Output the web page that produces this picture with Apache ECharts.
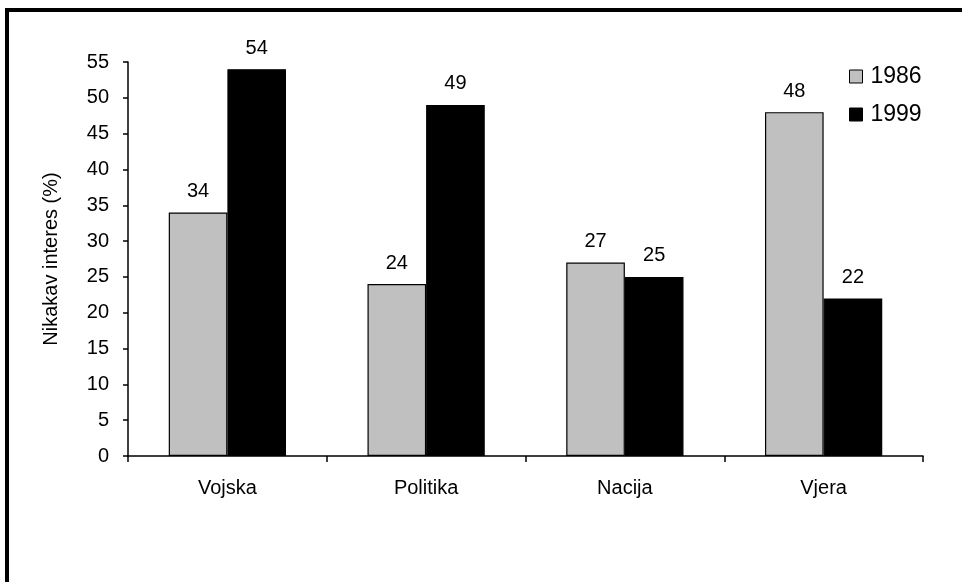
<!DOCTYPE html>
<html>
<head>
<meta charset="utf-8">
<script src="https://cdn.jsdelivr.net/npm/echarts@6/dist/echarts.min.js"></script>
<style>
html,body{margin:0;padding:0;background:#fff;}
#main{width:962px;height:582px;}
</style>
</head>
<body>
<div id="main"></div>
<script>
const categories = ['Vojska', 'Politika', 'Nacija', 'Vjera'];
const series1986 = [34, 24, 27, 48];
const series1999 = [54, 49, 25, 22];
const yTicks = { min: 0, max: 55, interval: 5 };

const chart = echarts.init(document.getElementById('main'));
const FONT = 'Liberation Sans, Arial, sans-serif';
const labelCfg = {
  show: true, position: 'top', distance: 11,
  color: '#000', fontFamily: FONT, fontSize: 20
};
chart.setOption({
  backgroundColor: '#fff',
  animation: false,
  graphic: [
    { type: 'rect', shape: { x: 5, y: 8, width: 957, height: 4 }, style: { fill: '#000' } },
    { type: 'rect', shape: { x: 5, y: 8, width: 4, height: 574 }, style: { fill: '#000' } }
  ],
  grid: { left: 128, right: 39, top: 62, bottom: 126 },
  legend: {
    orient: 'vertical', left: 844, top: 60,
    icon: 'rect',
    itemWidth: 13, itemHeight: 13, itemGap: 15,
    textStyle: { fontFamily: FONT, fontSize: 23, color: '#000', padding: [0, 0, 0, 3] },
    data: [
      { name: '1986', itemStyle: { color: '#C0C0C0', borderColor: '#000', borderWidth: 1 } },
      { name: '1999', itemStyle: { color: '#000', borderColor: '#000', borderWidth: 1 } }
    ]
  },
  xAxis: {
    type: 'category', data: categories,
    axisLine: { lineStyle: { color: '#000', width: 1.5 } },
    axisTick: { show: true, length: 6, lineStyle: { color: '#000', width: 1.5 } },
    axisLabel: { color: '#000', fontFamily: FONT, fontSize: 20, margin: 22 }
  },
  yAxis: {
    type: 'value', min: yTicks.min, max: yTicks.max, interval: yTicks.interval,
    name: 'Nikakav interes (%)', nameLocation: 'middle', nameGap: 67,
    nameTextStyle: { color: '#000', fontFamily: FONT, fontSize: 20 },
    splitLine: { show: false },
    axisLine: { show: true, lineStyle: { color: '#000', width: 1.5 } },
    axisTick: { show: true, length: 5, lineStyle: { color: '#000', width: 1.5 } },
    axisLabel: { color: '#000', fontFamily: FONT, fontSize: 20, margin: 19 }
  },
  series: [
    {
      name: '1986', type: 'bar', data: series1986,
      barGap: '0%', barCategoryGap: '41%',
      itemStyle: { color: '#C0C0C0', borderColor: '#000', borderWidth: 1.2 },
      label: labelCfg
    },
    {
      name: '1999', type: 'bar', data: series1999,
      itemStyle: { color: '#000', borderColor: '#000', borderWidth: 1.2 },
      label: labelCfg
    }
  ]
});
</script>
</body>
</html>
